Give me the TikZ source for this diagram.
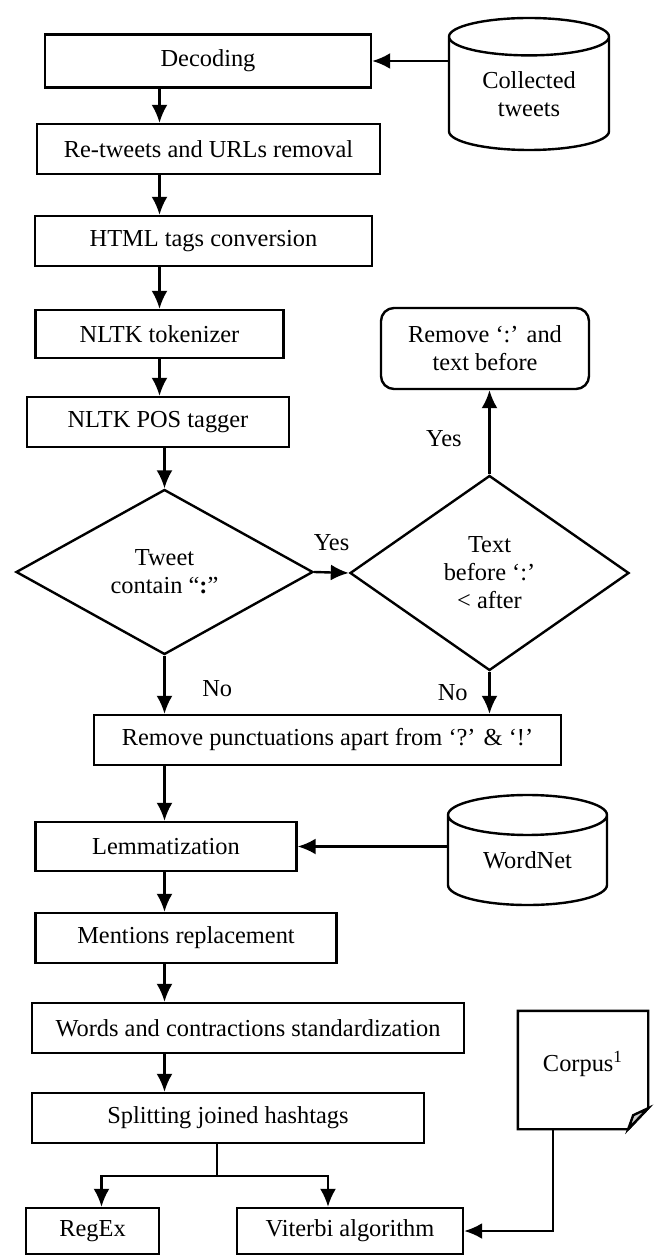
\documentclass[tikz,border=0pt]{standalone}
\usepackage{fontspec}
\setmainfont{Liberation Serif}
\usepackage{tikz}
\usetikzlibrary{arrows.meta, positioning, calc, shapes.geometric}

\begin{document}
\begin{tikzpicture}[
    x=0.5pt, y=-0.5pt,
    every node/.style={align=center, font=\fontsize{12.2}{14}\selectfont, line width=1.2pt},
    proc/.style={draw, minimum height=25pt, inner sep=2pt},
    decision/.style={draw, diamond, inner sep=0pt},
    store/.style={draw, cylinder, shape border rotate=90, aspect=0.4, inner sep=0pt},
    edge/.style={-{Latex[length=9pt, width=8pt]}, line width=1.2pt},
    link/.style={line width=1.2pt}
]
\useasboundingbox (0,0) rectangle (653,1256);
\node[proc, minimum width=163pt, minimum height=26.5pt] (decod) at (208,61) {Decoding};
\node[store, minimum width=80pt, minimum height=66pt, anchor=shape center] (tweets) at (529,84) {Collected\\tweets};
\node[proc, minimum width=171.5pt] (ret) at (208.5,149) {Re-tweets and URLs removal};
\node[proc, minimum width=168.5pt] (html) at (203.5,241) {HTML tags conversion};
\node[proc, minimum width=124pt, minimum height=24pt] (tok) at (159.5,334) {NLTK tokenizer};
\node[proc, minimum width=131pt] (pos) at (158,422) {NLTK POS tagger};
\node[proc, rounded corners=6.5pt, minimum width=104pt, minimum height=40.5pt] (cut) at (485,348.5) {Remove `:' and\\text before};
\node[decision, minimum width=148.5pt, minimum height=82.5pt] (colon) at (164.5,572) {Tweet\\contain ``\textbf{:}''};
\node[decision, minimum width=139.5pt, minimum height=97.5pt] (before) at (489.5,573) {Text\\before `:'\\< after};
\node[proc, minimum width=233.5pt] (punct) at (327.5,740) {Remove punctuations apart from `?' \& `!'};
\node[proc, minimum width=130.5pt, minimum height=24.5pt] (lemma) at (166,846.5) {Lemmatization};
\node[store, aspect=0.45, minimum width=79.5pt, minimum height=55pt, anchor=shape center] (wordnet) at (527.5,850) {WordNet};
\node[proc, minimum width=150.5pt] (mention) at (186,938) {Mentions replacement};
\node[proc, minimum width=216pt] (words) at (248,1028) {Words and contractions standardization};
\node[proc, minimum width=196pt] (split) at (228,1118) {Splitting joined hashtags};
\node[minimum width=64pt, minimum height=58pt] (corpus) at (583,1070) {\raisebox{9pt}{Corpus\textsuperscript{1}}};
\node[proc, minimum width=66.5pt, minimum height=23pt] (regex) at (92.5,1231) {RegEx};
\node[proc, minimum width=113pt, minimum height=23pt] (viterbi) at (350,1231) {Viterbi algorithm};
\coordinate (fork) at (217,1176);

\draw[link] (corpus.north west) -- (corpus.north east) -- ([yshift=10.5pt]corpus.south east)
    -- ([xshift=-10pt]corpus.south east) -- (corpus.south west) -- cycle;
\filldraw[link, fill=gray!40] ([yshift=10.5pt]corpus.south east) -- ([xshift=-10pt]corpus.south east)
    -- ([xshift=-7.5pt, yshift=7pt]corpus.south east) -- cycle;

\draw[edge] (tweets.west |- decod.east) -- (decod.east);
\draw[edge] (decod.south -| tok) -- (ret.north -| tok);
\draw[edge] (ret.south -| tok) -- (html.north -| tok);
\draw[edge] (html.south -| tok) -- (tok.north);
\draw[edge] (tok.south) -- (pos.north -| tok);
\draw[edge] (pos.south -| colon) -- (colon.north);
\draw[edge] (colon.east) -- node[above=7pt] {Yes} (before.west);
\draw[edge] (before.north) -- node[pos=0.43, left=10pt] {Yes} (cut.south -| before.north);
\draw[edge] (colon.south) -- node[pos=0.56, right=15pt] {No} (colon.south |- punct.north);
\draw[edge] (before.south) -- node[pos=0.49, left=7pt] {No} (before.south |- punct.north);
\draw[edge] (punct.south -| colon) -- (lemma.north -| colon);
\draw[edge] (wordnet.west |- lemma.east) -- (lemma.east);
\draw[edge] (lemma.south -| colon) -- (mention.north -| colon);
\draw[edge] (mention.south -| colon) -- (words.north -| colon);
\draw[edge] (words.south -| colon) -- (split.north -| colon);
\draw[link] (split.south -| fork) -- (fork);
\draw[edge] (fork) -| ([xshift=4.5pt]regex.north);
\draw[edge] (fork) -| ([xshift=-11pt]viterbi.north);
\draw[edge] ([xshift=-15pt]corpus.south) |- (viterbi.east);
\end{tikzpicture}
\end{document}
